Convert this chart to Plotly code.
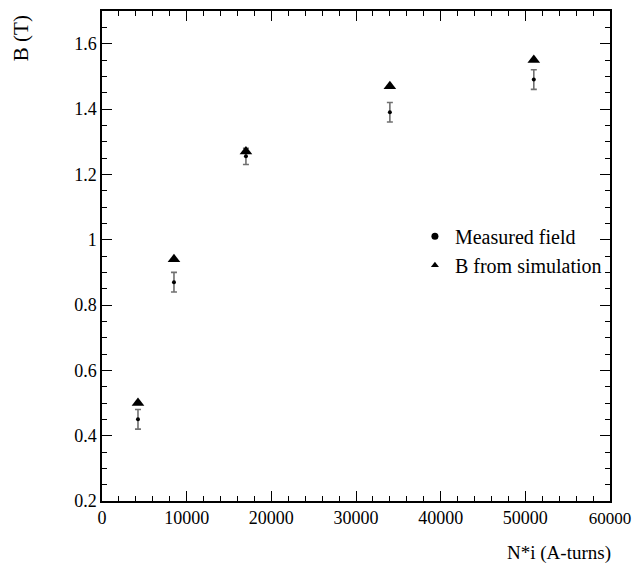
import plotly.graph_objects as go

# Data
current_turns = [4250, 8500, 17000, 34000, 51000]
measured_field = [0.45, 0.87, 1.255, 1.39, 1.49]
measured_err = [0.03, 0.03, 0.025, 0.03, 0.03]
simulated_field = [0.50, 0.94, 1.27, 1.47, 1.55]

x_ticks = [0, 10000, 20000, 30000, 40000, 50000, 60000]

FONT = "Liberation Serif, Times New Roman, serif"

# last label sits at the window edge; slightly tighter so it stays visible
x_ticktext = [str(v) for v in x_ticks[:-1]] + [
    "<span style='font-size:17px'>%d</span>" % x_ticks[-1]
]

fig = go.Figure()

fig.add_trace(go.Scatter(
    x=current_turns, y=measured_field, mode="markers",
    marker=dict(symbol="circle", size=4, color="black"),
    error_y=dict(type="data", array=measured_err, visible=True,
                 color="#707070", thickness=1.6, width=3),
    showlegend=False,
))
fig.add_trace(go.Scatter(
    x=current_turns, y=simulated_field, mode="markers",
    marker=dict(symbol="triangle-up", size=11, color="black"),
    showlegend=False,
))
# legend-only entries
fig.add_trace(go.Scatter(x=[None], y=[None], mode="markers", name="Measured field",
                         marker=dict(symbol="circle", size=7, color="black")))
fig.add_trace(go.Scatter(x=[None], y=[None], mode="markers", name="B from simulation",
                         marker=dict(symbol="triangle-up", size=7, color="black")))

axis_common = dict(
    showline=True, linecolor="black", linewidth=1.5, mirror="allticks",
    ticks="inside", ticklen=10, tickwidth=1, tickcolor="black",
    showgrid=False, zeroline=False,
    tickfont=dict(family=FONT, size=18, color="black"),
)

fig.update_xaxes(range=[0, 60000], tickmode="array", tickvals=x_ticks,
                 ticktext=x_ticktext, ticklabeloverflow="allow",
                 minor=dict(dtick=2000, tick0=0, ticks="inside", ticklen=5,
                            tickcolor="black"),
                 **axis_common)
fig.update_yaxes(range=[0.2, 1.7], dtick=0.2, tick0=0.2,
                 minor=dict(dtick=0.05, ticks="inside", ticklen=5, tickcolor="black"),
                 **axis_common)

fig.add_annotation(text="N*i (A-turns)", xref="paper", yref="paper",
                   x=1.005, y=-0.106, xanchor="right", yanchor="middle",
                   showarrow=False, font=dict(family=FONT, size=19, color="black"))
fig.add_annotation(text="B (T)", xref="paper", yref="paper",
                   x=-0.159, y=0.945, xanchor="center", yanchor="middle",
                   textangle=-90, showarrow=False,
                   font=dict(family=FONT, size=21, color="black"))

fig.update_layout(
    width=624, height=561,
    margin=dict(l=94, r=20, t=1, b=68),
    paper_bgcolor="white", plot_bgcolor="white",
    font=dict(family=FONT, color="black"),
    legend=dict(x=0.616, y=0.580, xanchor="left", yanchor="top",
                bgcolor="rgba(0,0,0,0)", borderwidth=0,
                font=dict(family=FONT, size=20, color="black"),
                tracegroupgap=0),
)

fig.write_html("out.html")
